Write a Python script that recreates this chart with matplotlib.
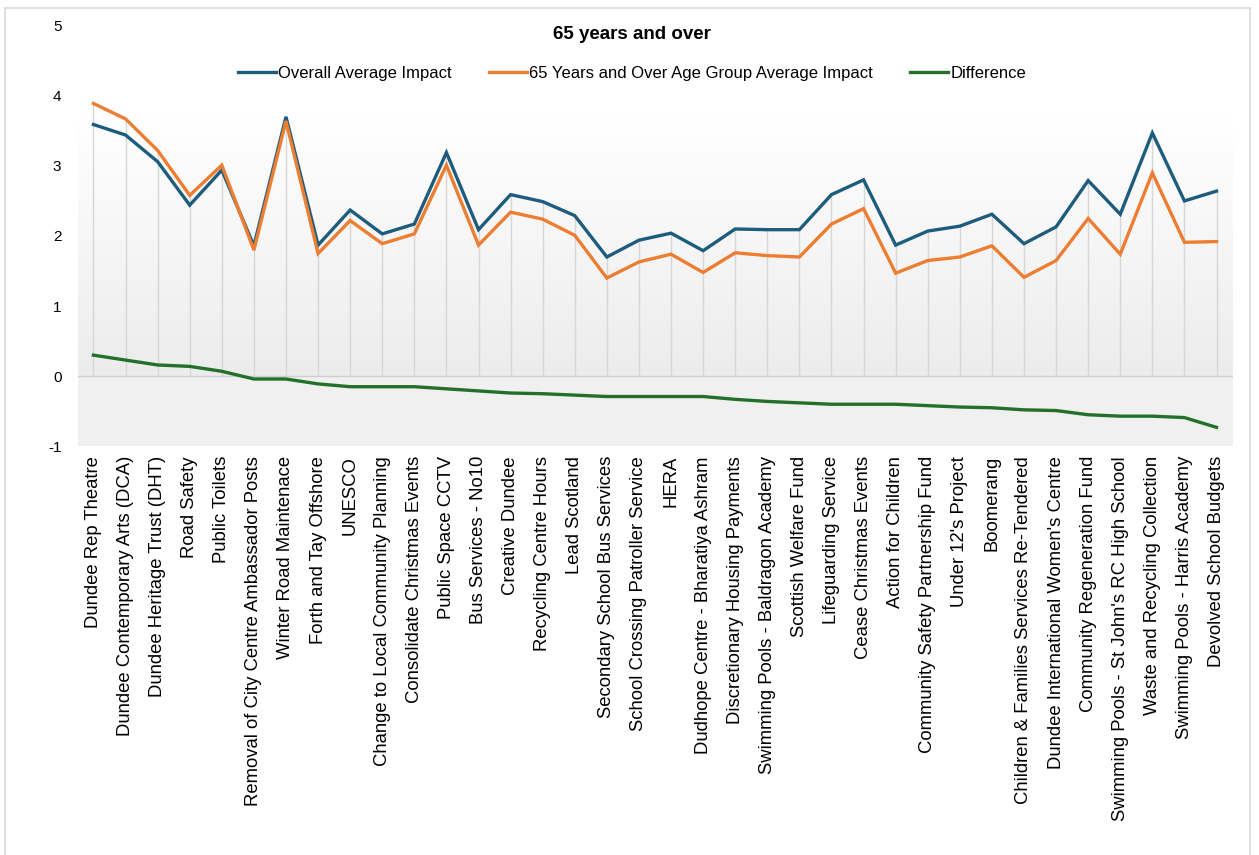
import numpy as np
import matplotlib
matplotlib.use("Agg")
from matplotlib import pyplot as plt
from matplotlib.colors import LinearSegmentedColormap
from matplotlib.patches import Rectangle

plt.rcParams['font.family'] = ['Liberation Sans', 'DejaVu Sans']

services = ["Dundee Rep Theatre", "Dundee Contemporary Arts (DCA)", "Dundee Heritage Trust (DHT)",
            "Road Safety", "Public Toilets", "Removal of City Centre Ambassador Posts",
            "Winter Road Maintenace", "Forth and Tay Offshore", "UNESCO",
            "Change to Local Community Planning", "Consolidate Christmas Events",
            "Public Space CCTV", "Bus Services - No10", "Creative Dundee",
            "Recycling Centre Hours", "Lead Scotland", "Secondary School Bus Services",
            "School Crossing Patroller Service", "HERA", "Dudhope Centre - Bharatiya Ashram",
            "Discretionary Housing Payments", "Swimming Pools - Baldragon Academy",
            "Scottish Welfare Fund", "Lifeguarding Service", "Cease Christmas Events",
            "Action for Children", "Community Safety Partnership Fund", "Under 12's Project",
            "Boomerang", "Children & Families Services Re-Tendered",
            "Dundee International Women's Centre", "Community Regeneration Fund",
            "Swimming Pools - St John's RC High School", "Waste and Recycling Collection",
            "Swimming Pools - Harris Academy", "Devolved School Budgets"]

overall = [3.59, 3.44, 3.06, 2.44, 2.94, 1.86, 3.70, 1.87, 2.37, 2.03, 2.17, 3.19,
           2.09, 2.59, 2.49, 2.29, 1.70, 1.94, 2.04, 1.79, 2.10, 2.09, 2.09, 2.59,
           2.80, 1.87, 2.07, 2.14, 2.31, 1.89, 2.13, 2.79, 2.31, 3.47, 2.50, 2.64]
age65 = [3.89, 3.67, 3.22, 2.58, 3.01, 1.80, 3.64, 1.75, 2.22, 1.89, 2.03, 3.01,
         1.87, 2.34, 2.24, 2.01, 1.40, 1.63, 1.74, 1.48, 1.76, 1.72, 1.70, 2.17,
         2.39, 1.47, 1.65, 1.70, 1.86, 1.41, 1.65, 2.25, 1.74, 2.90, 1.91, 1.92]
difference = [0.30, 0.23, 0.16, 0.14, 0.07, -0.04, -0.04, -0.11, -0.15, -0.15, -0.15, -0.18,
              -0.21, -0.24, -0.25, -0.27, -0.29, -0.29, -0.29, -0.29, -0.33, -0.36, -0.38, -0.40,
              -0.40, -0.40, -0.42, -0.44, -0.45, -0.48, -0.49, -0.55, -0.57, -0.57, -0.59, -0.73]

blue = "#1d5c7c"
orange = "#ed7d31"
green = "#23702b"

x = np.arange(len(services))
fig = plt.figure(figsize=(12.59, 8.55), dpi=100)
ax = fig.add_axes([0.062, 0.478, 0.917, 0.492])
ax.set_xlim(-0.48, len(services) - 0.5)
ax.set_ylim(-1, 5)

# background shading: gradient above zero, flat grey below
grad = LinearSegmentedColormap.from_list("g", ["#ececec", "#ffffff"])
ax.imshow(np.linspace(0, 1, 256).reshape(-1, 1), cmap=grad, origin="lower", aspect="auto",
          extent=[-0.48, len(services) - 0.5, 0, 3.69], zorder=0)
ax.axhspan(-1, 0, color="#f0f0f0", zorder=0, lw=0)
ax.axhline(0, color="#cfcfcf", lw=1, zorder=1)

# drop lines
top = np.maximum(overall, age65)
ax.vlines(x, 0, top, color="#d6d6d6", lw=1, zorder=1)

ax.plot(x, overall, color=blue, lw=2.4, label="Overall Average Impact", zorder=3,
        solid_joinstyle="miter")
ax.plot(x, age65, color=orange, lw=2.4, label="65 Years and Over Age Group Average Impact",
        zorder=3, solid_joinstyle="miter")
ax.plot(x, difference, color=green, lw=2.4, label="Difference", zorder=3)

for s in ax.spines.values():
    s.set_visible(False)
ax.set_xticks(x)
ax.set_xticklabels(services, rotation=90, fontsize=13.3, va="top", ha="center")
ax.set_yticks(range(-1, 6))
ax.set_yticklabels([str(v) for v in range(-1, 6)], fontsize=11)
ax.tick_params(axis="y", length=0, pad=12)
ax.tick_params(axis="x", length=0, pad=7)

fig.text(0.502, 0.960, "65 years and over", fontsize=13.5, fontweight="bold",
         ha="center", va="center")
fig.legend(loc="center", bbox_to_anchor=(0.502, 0.9146), ncol=3, frameon=False,
           fontsize=12, handlelength=2.3, handletextpad=0.15, columnspacing=2.2)

# outer chart border
fig.patches.append(Rectangle((5 / 1259, -0.05), 1245 / 1259, 1 - 8 / 855 + 0.05,
                             transform=fig.transFigure, fill=False,
                             edgecolor="#d9d9d9", lw=1.2))

plt.savefig("out.png", dpi=100)
